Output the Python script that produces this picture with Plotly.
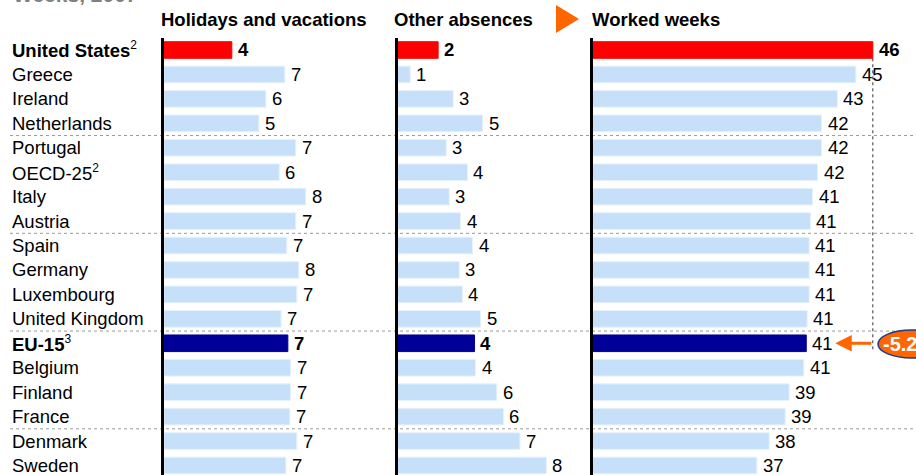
import plotly.graph_objects as go

# ---------------- data ----------------
countries = ["United States", "Greece", "Ireland", "Netherlands", "Portugal", "OECD-25",
             "Italy", "Austria", "Spain", "Germany", "Luxembourg", "United Kingdom",
             "EU-15", "Belgium", "Finland", "France", "Denmark", "Sweden"]
SUP = "<sup><span style='font-size:12px'>{}</span></sup>"
country_labels = ["<b>United States</b>" + SUP.format(2), "Greece", "Ireland", "Netherlands",
                  "Portugal", "OECD-25" + SUP.format(2), "Italy", "Austria", "Spain", "Germany",
                  "Luxembourg", "United Kingdom", "<b>EU-15</b>" + SUP.format(3), "Belgium",
                  "Finland", "France", "Denmark", "Sweden"]
holidays = [3.8, 6.76, 5.7, 5.31, 7.37, 6.45, 7.93, 7.37, 6.87, 7.54, 7.43, 6.55,
            6.93, 7.09, 7.09, 7.04, 7.43, 6.82]
other_absences = [2.27, 0.71, 3.11, 4.75, 2.72, 3.91, 2.89, 3.52, 4.19, 3.45, 3.63, 4.64,
                  4.3, 4.36, 5.55, 5.92, 6.84, 8.31]
worked_weeks = [45.93, 44.6, 43.17, 41.93, 41.93, 41.62, 41.23, 41.07, 40.97, 40.97, 40.97,
                40.81, 40.74, 40.55, 39.41, 39.1, 37.85, 36.89]
panel_titles = ["Holidays and vacations", "Other absences", "Worked weeks"]
gap_label = "-5.2"
subtitle = "Weeks, 2007"
group_breaks = [3.5, 7.5, 11.5, 15.5]

# ---------------- style ----------------
W, H = 916, 475
FONT = "Arial, Liberation Sans, sans-serif"
LIGHT = "#C6E0F9"
RED = "#FF0000"
NAVY = "#000099"
ORANGE = "#FF6600"
TXT = 18.5


def fx(px):
    return px / W


def fy(py):
    return 1 - py / H


colors = [RED if c == "United States" else NAVY if c == "EU-15" else LIGHT for c in countries]
edges = [RED if c == "United States" else NAVY if c == "EU-15" else "#E6F1FC" for c in countries]
idx = list(range(len(countries)))
# which value labels are bold, per panel
bold_sets = [("United States", "EU-15"), ("United States", "EU-15"), ("United States",)]

row0, row_step = 50.0, 24.44
y_top_px = row0 - row_step / 2
y_range = [(H - row0) / row_step, -0.5]
y_dom = [0, fy(y_top_px)]

fig = go.Figure()
series = [holidays, other_absences, worked_weeks]
axes = [("x", "y"), ("x2", "y2"), ("x3", "y3")]
for vals, (xa, ya) in zip(series, axes):
    fig.add_trace(go.Bar(
        x=vals, y=idx, orientation="h", width=0.68,
        marker=dict(color=colors, line=dict(color=edges, width=1)),
        xaxis=xa, yaxis=ya, hoverinfo="skip", showlegend=False))

scale12 = 17.9   # px per week, first two panels
scale3 = 12.83   # px per week, worked weeks panel
p1 = (163.8, 380)
p2 = (397.5, 580)
p3 = (592.5, 916)
w_start = 24.08

axis_common = dict(showgrid=False, zeroline=False, showticklabels=False, ticks="",
                   showline=False, fixedrange=True)
fig.update_layout(
    xaxis=dict(domain=[fx(p1[0]), fx(p1[1])], range=[0, (p1[1] - p1[0]) / scale12],
               anchor="y", **axis_common),
    xaxis2=dict(domain=[fx(p2[0]), fx(p2[1])], range=[0, (p2[1] - p2[0]) / scale12],
                anchor="y2", **axis_common),
    xaxis3=dict(domain=[fx(p3[0]), fx(p3[1])],
                range=[w_start, w_start + (p3[1] - p3[0]) / scale3],
                anchor="y3", **axis_common),
)
for name, xa in [("yaxis", "x"), ("yaxis2", "x2"), ("yaxis3", "x3")]:
    fig.layout[name] = dict(domain=y_dom, range=y_range, anchor=xa, showgrid=False,
                            zeroline=False, showticklabels=False, ticks="",
                            showline=True, linecolor="black", linewidth=3, fixedrange=True)

annotations = []
# value labels
for vals, (xa, ya), bset in zip(series, axes, bold_sets):
    for i, v in enumerate(vals):
        t = f"{v:.0f}"
        annotations.append(dict(
            x=v, y=i, xref=xa, yref=ya, text=f"<b>{t}</b>" if countries[i] in bset else t,
            xanchor="left", yanchor="middle", xshift=4, showarrow=False,
            font=dict(family=FONT, size=TXT, color="black")))
# country labels
for i, lab in enumerate(country_labels):
    annotations.append(dict(
        x=fx(10), y=i, xref="paper", yref="y", text=lab, xanchor="left",
        yanchor="middle", showarrow=False, font=dict(family=FONT, size=TXT, color="black")))
# panel titles
for title, xpx in zip(panel_titles, [159, 392, 590]):
    annotations.append(dict(
        x=fx(xpx), y=fy(19), xref="paper", yref="paper", text=f"<b>{title}</b>",
        xanchor="left", yanchor="middle", showarrow=False,
        font=dict(family=FONT, size=TXT, color="black")))
# subtitle (cut at the top)
annotations.append(dict(
    x=fx(11), y=1, xref="paper", yref="paper", text=f"<b>{subtitle}</b>",
    xanchor="left", yanchor="bottom", yshift=-8, showarrow=False,
    font=dict(family=FONT, size=21, color="#808080")))
# arrow to EU-15 worked weeks
eu = countries.index("EU-15")
us = countries.index("United States")
annotations.append(dict(
    x=worked_weeks[eu], y=eu, xref="x3", yref="y3",
    ax=worked_weeks[us], ay=eu, axref="x3", ayref="y3",
    text="", showarrow=True, arrowhead=2, arrowsize=1.1, arrowwidth=3,
    arrowcolor=ORANGE, standoff=29))
# gap bubble text
annotations.append(dict(
    x=fx(881), y=fy(344), xref="paper", yref="paper", text=f"<b>{gap_label}</b>",
    xanchor="left", yanchor="middle", showarrow=False,
    font=dict(family=FONT, size=20, color="white")))

shapes = []
for b in group_breaks:
    shapes.append(dict(type="line", xref="paper", yref="y", x0=fx(10), x1=1, y0=b, y1=b,
                       line=dict(color="#999999", width=1, dash="dot"), layer="below"))
# vertical dotted reference at US worked weeks
shapes.append(dict(type="line", xref="x3", yref="y3", x0=worked_weeks[us], x1=worked_weeks[us],
                   y0=us + 0.34, y1=eu + 0.25,
                   line=dict(color="#333333", width=1, dash="dot")))
# orange triangle before "Worked weeks"
tri = f"M {fx(556)},{fy(5)} L {fx(579)},{fy(19)} L {fx(556)},{fy(33)} Z"
shapes.append(dict(type="path", xref="paper", yref="paper", path=tri,
                   fillcolor=ORANGE, line=dict(width=0)))
# bubble
shapes.append(dict(type="circle", xref="paper", yref="paper", x0=fx(878), x1=fx(945),
                   y0=fy(358), y1=fy(330), fillcolor=ORANGE,
                   line=dict(color="#1F3A8A", width=1.5)))

fig.update_layout(
    width=W, height=H, margin=dict(l=0, r=0, t=0, b=0),
    paper_bgcolor="white", plot_bgcolor="white",
    annotations=annotations, shapes=shapes, showlegend=False,
    font=dict(family=FONT),
)

fig.write_html("out.html", config={"displayModeBar": False},
               post_script="document.body.style.margin='0';document.body.style.overflow='hidden';")
